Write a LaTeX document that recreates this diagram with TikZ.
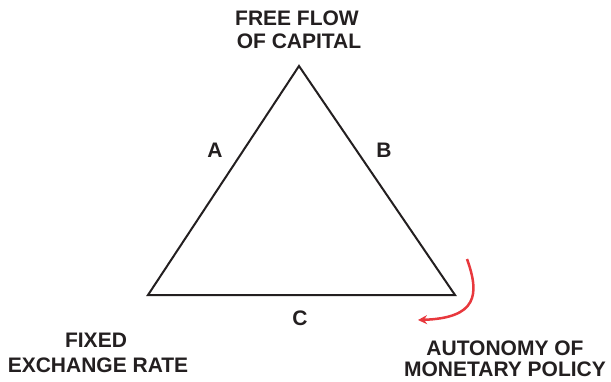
\documentclass[tikz,border=0pt]{standalone}
\usepackage{fontspec}
\setmainfont{Liberation Sans}
\usetikzlibrary{arrows.meta}
\definecolor{arrowred}{HTML}{E8383D}
\definecolor{ink}{HTML}{231F20}
\begin{document}
\begin{tikzpicture}[x=1pt,y=-1pt,
  lbl/.style={font=\bfseries\fontsize{21}{24}\selectfont, anchor=base, inner sep=0pt, text=ink},
  side/.style={font=\bfseries\fontsize{21}{24}\selectfont, anchor=base, inner sep=0pt, text=ink}]
\useasboundingbox (0,0) rectangle (611,381);
\coordinate (T) at (299,66);
\coordinate (L) at (148,295);
\coordinate (R) at (455,295);
\draw[ink, line width=2pt, line join=miter] (T) -- (L) -- (R) -- cycle;
\node[lbl] (t1) at (297,25) {FREE FLOW};
\node[lbl] (t2) at (299,48) {OF CAPITAL};
\node[lbl] (l1) at (96,347) {FIXED};
\node[lbl] (l2) at (98,372) {EXCHANGE RATE};
\node[lbl] (r1) at (505,355) {AUTONOMY OF};
\node[lbl] (r2) at (505,376) {MONETARY POLICY};
\node[side] (a) at (215,157) {A};
\node[side] (b) at (384,157) {B};
\node[side] (c) at (300,325) {C};
\coordinate (s) at (467,259);
\coordinate (e) at (418,320);
\draw[arrowred, line width=2.5pt, -{Stealth[length=9pt,width=9pt]}] (s) .. controls (480,295) and (477,318) .. (e);
\end{tikzpicture}
\end{document}
